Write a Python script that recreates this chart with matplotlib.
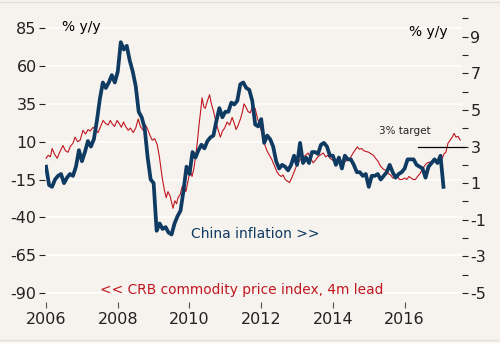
import matplotlib
matplotlib.use("Agg")
import matplotlib.pyplot as plt
from matplotlib.lines import Line2D
import numpy as np

# China CPI, % y/y, monthly from Jan 2006 (right axis)
cpi = [1.9, 0.9, 0.8, 1.2, 1.4, 1.5, 1.0, 1.3, 1.5, 1.4, 1.9, 2.8,
       2.2, 2.7, 3.3, 3.0, 3.4, 4.4, 5.6, 6.5, 6.2, 6.5, 6.9, 6.5,
       7.1, 8.7, 8.3, 8.5, 7.7, 7.1, 6.3, 4.9, 4.6, 4.0, 2.4, 1.2,
       1.0, -1.6, -1.2, -1.5, -1.4, -1.7, -1.8, -1.2, -0.8, -0.5, 0.6, 1.9,
       1.5, 2.7, 2.4, 2.8, 3.1, 2.9, 3.3, 3.5, 3.6, 4.4, 5.1, 4.6,
       4.9, 4.9, 5.4, 5.3, 5.5, 6.4, 6.5, 6.2, 6.1, 5.5, 4.2, 4.1,
       4.5, 3.2, 3.6, 3.4, 3.0, 2.2, 1.8, 2.0, 1.9, 1.7, 2.0, 2.5,
       2.0, 3.2, 2.1, 2.4, 2.1, 2.7, 2.7, 2.6, 3.1, 3.2, 3.0, 2.5,
       2.5, 2.0, 2.4, 1.8, 2.5, 2.3, 2.3, 2.0, 1.6, 1.6, 1.4, 1.5,
       0.8, 1.4, 1.4, 1.5, 1.2, 1.4, 1.6, 2.0, 1.6, 1.3, 1.5, 1.6,
       1.8, 2.3, 2.3, 2.3, 2.0, 1.9, 1.8, 1.3, 1.9, 2.1, 2.3, 2.1,
       2.5, 0.8]
cpi_t = 2006 + np.arange(len(cpi)) / 12

# CRB commodity price index, % y/y, 4m lead (left axis)
crb_t = [2006.00, 2006.06, 2006.12, 2006.17, 2006.23, 2006.31, 2006.38, 2006.47, 2006.54, 2006.61,
         2006.68, 2006.75, 2006.81, 2006.88, 2006.95, 2007.03, 2007.10, 2007.17, 2007.23, 2007.31,
         2007.38, 2007.45, 2007.52, 2007.59, 2007.66, 2007.73, 2007.79, 2007.84, 2007.91, 2007.98,
         2008.04, 2008.10, 2008.16, 2008.22, 2008.29, 2008.35, 2008.43, 2008.50, 2008.57, 2008.63,
         2008.71, 2008.77, 2008.82, 2008.90, 2008.96, 2009.03, 2009.10, 2009.16, 2009.24, 2009.30,
         2009.35, 2009.40, 2009.46, 2009.50, 2009.54, 2009.59, 2009.64, 2009.68, 2009.74, 2009.79,
         2009.84, 2009.90, 2009.95, 2010.02, 2010.07, 2010.12, 2010.17, 2010.22, 2010.27, 2010.31,
         2010.35, 2010.40, 2010.44, 2010.50, 2010.56, 2010.61, 2010.66, 2010.72, 2010.77, 2010.82,
         2010.86, 2010.92, 2010.98, 2011.05, 2011.12, 2011.19, 2011.25, 2011.30, 2011.36, 2011.42,
         2011.47, 2011.52, 2011.57, 2011.63, 2011.69, 2011.76, 2011.83, 2011.90, 2011.97, 2012.04,
         2012.10, 2012.16, 2012.23, 2012.30, 2012.37, 2012.44, 2012.50, 2012.56, 2012.61, 2012.67,
         2012.73, 2012.79, 2012.85, 2012.90, 2012.95, 2013.00, 2013.06, 2013.12, 2013.17, 2013.24,
         2013.31, 2013.38, 2013.45, 2013.52, 2013.58, 2013.64, 2013.73, 2013.80, 2013.86, 2013.92,
         2013.98, 2014.05, 2014.12, 2014.20, 2014.28, 2014.35, 2014.42, 2014.48, 2014.55, 2014.62,
         2014.68, 2014.74, 2014.80, 2014.86, 2014.93, 2015.00, 2015.06, 2015.13, 2015.19, 2015.26,
         2015.32, 2015.40, 2015.47, 2015.54, 2015.61, 2015.67, 2015.73, 2015.80, 2015.86, 2015.93,
         2016.00, 2016.06, 2016.12, 2016.18, 2016.24, 2016.30, 2016.36, 2016.43, 2016.50, 2016.57,
         2016.63, 2016.70, 2016.77, 2016.84, 2016.91, 2016.98, 2017.05, 2017.10, 2017.15, 2017.21,
         2017.27, 2017.33, 2017.38, 2017.43, 2017.49, 2017.55]
crb = [-1, 1, 0, 5.5, 2, -1, 3, 7.5, 4, 3,
       7, 9, 13, 10, 11, 17.5, 15, 18, 17, 19.5,
       18, 16, 20, 24, 22, 21, 24, 22, 20, 24,
       22, 19.5, 23, 20, 17.5, 19, 16, 19, 25, 20,
       17.5, 21, 19, 14, 11, 12, 8, 0, -14, -22,
       -27, -23, -26, -30, -34, -29, -31, -27, -25, -20,
       -19, -23, -17, -9, -13, -8, 0, 10, 22, 30,
       39, 33, 32, 37, 41, 35, 31, 25, 20, 16,
       13, 17, 19, 23, 21, 26, 22, 18, 21, 25,
       29, 35, 33, 30, 29, 33, 32, 25, 20, 14,
       8, 4, 1, -2, -6, -10, -12, -13, -12, -15,
       -16, -17, -14, -11, -8, -5, -3, -1, 0, 1,
       2.5, -1, -4, -2, 0, 1, 2.5, 0, 1, -1,
       -2, -3, -3.5, -2, -4, -3, -2, -1, 2, 4.5,
       6.5, 5, 5.5, 4, 3.5, 3, 2, 1, -1, -3,
       -6, -8, -9, -11, -12, -14, -14, -13, -15, -15,
       -14, -15, -13, -14, -15, -15, -13, -11, -8, -5.5,
       -4, -3.5, -4, -2, -2, -1, -1, 2, 3, 9,
       11, 13, 15.5, 13, 13.5, 11]

years = [2006, 2008, 2010, 2012, 2014, 2016]
left_ticks = [85, 60, 35, 10, -15, -40, -65, -90]
right_ticks = list(range(-5, 11))
target = 3

bg = "#f6f3ef"
navy = "#0f3a61"
red = "#c0161f"
txt = "#222222"

fig = plt.figure(figsize=(5, 3.43), dpi=100, facecolor=bg)
ax = fig.add_axes([0.09, 0.1195, 0.834, 0.8365])
ax.set_facecolor(bg)
ax2 = ax.twinx()

ax.plot(crb_t, crb, color=red, lw=0.8, zorder=3)
ax2.plot(cpi_t, cpi, color=navy, lw=2.7, solid_joinstyle="round", zorder=3)

ax.set_xlim(2005.97, 2017.6)
ax.set_ylim(-95.9, 93.6)
ax2.set_ylim(-5.49, 10.18)

for a in (ax, ax2):
    for s in a.spines.values():
        s.set_visible(False)

ax.set_yticks(left_ticks)
ax.set_yticklabels([str(v) for v in left_ticks])
ax.yaxis.grid(True, color="white", lw=1.1)
ax.set_axisbelow(True)
ax.tick_params(axis="y", direction="out", length=4, width=0.8, color=txt,
               labelsize=11.5, labelcolor=txt, pad=2)

ax.set_xticks(years)
ax.set_xticklabels([str(y) for y in years])
ax.tick_params(axis="x", direction="out", length=4, width=0.8, color="#555555",
               labelsize=11.5, labelcolor=txt, pad=3)

ax2.set_yticks(right_ticks)
ax2.set_yticklabels([str(v) if v % 2 else "" for v in right_ticks])
ax2.tick_params(axis="y", direction="out", length=4, width=0.8, color=txt,
                labelsize=11.5, labelcolor=txt, pad=2)

# 3% target marker
ax2.plot([2016.38, 2017.69], [target, target], color="black", lw=0.9, clip_on=False, zorder=2)
fig.text(0.81, 0.618, "3% target", fontsize=7.5, color=txt, ha="center", va="center")

fig.text(0.162, 0.921, "% y/y", fontsize=10, color="black", ha="center", va="center")
fig.text(0.856, 0.907, "% y/y", fontsize=10, color="black", ha="center", va="center")
fig.text(0.382, 0.318, "China inflation >>", fontsize=10, color=navy, ha="left", va="center")
fig.text(0.2, 0.155, "<< CRB commodity price index, 4m lead", fontsize=9.9, color=red,
         ha="left", va="center")

# thin frame lines top and bottom
fig.add_artist(Line2D([0, 1], [0.994, 0.994], transform=fig.transFigure, color="#e2ded9", lw=1))
fig.add_artist(Line2D([0, 1], [0.009, 0.009], transform=fig.transFigure, color="#e2ded9", lw=1))

fig.savefig("out.png", dpi=100, facecolor=bg)
